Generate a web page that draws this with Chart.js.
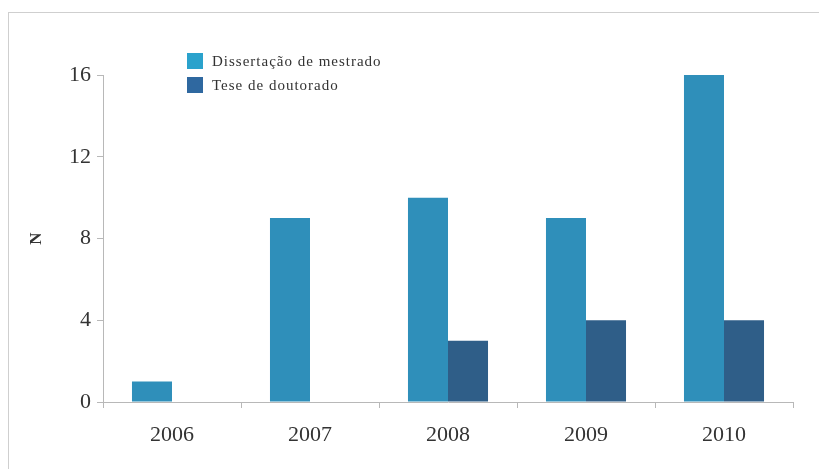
<!DOCTYPE html>
<html>
<head>
<meta charset="utf-8">
<script src="https://cdn.jsdelivr.net/npm/chart.js@4/dist/chart.umd.min.js"></script>
<style>
  html, body { margin: 0; padding: 0; background: #fff; }
  #wrap { position: relative; width: 819px; height: 469px; }
  #frame { position: absolute; left: 8px; top: 12px; right: 0; bottom: 0;
           border-top: 1px solid #cfcfcf; border-left: 1px solid #cfcfcf; }
  canvas { position: absolute; left: 0; top: 0; }
</style>
</head>
<body>
<div id="wrap">
  <div id="frame"></div>
  <canvas id="canvas" width="819" height="469"></canvas>
</div>
<script>
// anos e numero de trabalhos
var anos = ['2006', '2007', '2008', '2009', '2010'];
var dissertacoes = [1, 9, 10, 9, 16];
var teses = [0, 0, 3, 4, 4];
var yTicks = [0, 4, 8, 12, 16];

var corDiss = '#2f8fba';
var corTese = '#2f5e88';
var serif = "'Liberation Serif', 'DejaVu Serif', serif";

// legenda desenhada dentro da area do grafico
var legendaDentro = {
  id: 'legendaDentro',
  afterDraw: function (chart) {
    var ctx = chart.ctx;
    var x = 187, y = 53;
    ctx.save();
    ctx.font = "15px " + serif;
    ctx.letterSpacing = '1px';
    ctx.textBaseline = 'middle';
    chart.data.datasets.forEach(function (ds, i) {
      var yy = y + i * 24;
      ctx.fillStyle = ds.legendColor || ds.backgroundColor;
      ctx.fillRect(x, yy, 16, 16);
      ctx.fillStyle = '#333';
      ctx.fillText(ds.label, x + 25, yy + 9);
    });
    ctx.restore();
  }
};

var ctx = document.getElementById('canvas').getContext('2d');
window.myBar = new Chart(ctx, {
  type: 'bar',
  data: {
    labels: anos,
    datasets: [{
      label: 'Dissertação de mestrado',
      data: dissertacoes,
      backgroundColor: corDiss,
      legendColor: '#2aa2cc'
    }, {
      label: 'Tese de doutorado',
      data: teses,
      backgroundColor: corTese,
      legendColor: '#2f68a0'
    }]
  },
  options: {
    responsive: false,
    animation: false,
    layout: { padding: { left: 8, top: 75, right: 26, bottom: 0 } },
    datasets: { bar: { barPercentage: 1, categoryPercentage: 0.58 } },
    plugins: { legend: { display: false }, tooltip: { enabled: false } },
    scales: {
      x: {
        grid: { offset: true, drawOnChartArea: false, drawTicks: true, tickLength: 6, color: '#b8b8b8' },
        border: { color: '#b8b8b8', width: 1 },
        ticks: { color: '#333', padding: 14, font: { family: serif, size: 22 } },
        afterFit: function (scale) { scale.height = 67; }
      },
      y: {
        min: 0,
        max: 16,
        afterBuildTicks: function (scale) {
          scale.ticks = yTicks.map(function (v) { return { value: v }; });
        },
        grid: { drawOnChartArea: false, tickLength: 6, color: '#b8b8b8' },
        border: { color: '#b8b8b8', width: 1 },
        ticks: { color: '#333', padding: 6, font: { family: serif, size: 22 } },
        title: { display: true, text: 'N', color: '#333', padding: { top: 18, bottom: 0 },
                 font: { family: serif, size: 17, weight: 'bold' } },
        afterFit: function (scale) { scale.width = 95; }
      }
    }
  },
  plugins: [legendaDentro]
});
</script>
</body>
</html>
